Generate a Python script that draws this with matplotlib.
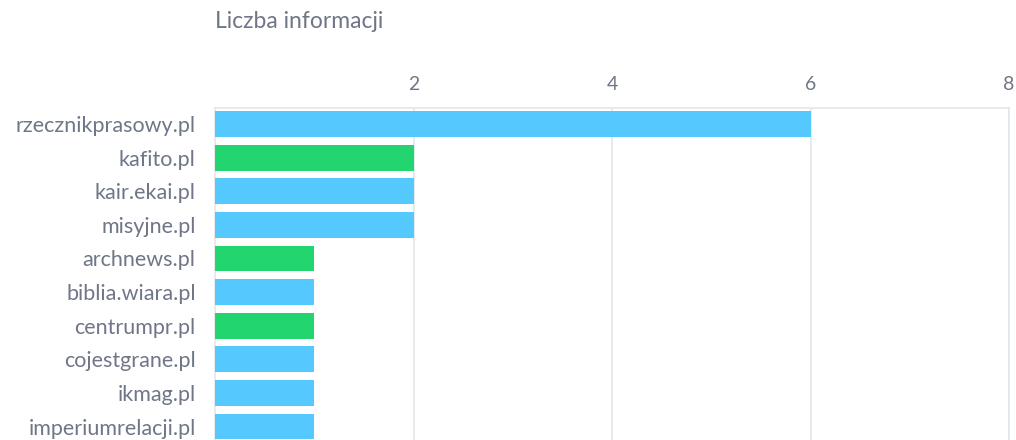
import matplotlib.pyplot as plt

plt.rcParams['font.family'] = ['Lato', 'DejaVu Sans']

sites = ["rzecznikprasowy.pl", "kafito.pl", "kair.ekai.pl", "misyjne.pl",
         "archnews.pl", "biblia.wiara.pl", "centrumpr.pl", "cojestgrane.pl",
         "ikmag.pl", "imperiumrelacji.pl"]
counts = [6, 2, 2, 2, 1, 1, 1, 1, 1, 1]
kinds = ["b", "g", "b", "b", "g", "b", "g", "b", "b", "b"]

blue = "#55C9FE"
green = "#22D56E"
grid_c = "#E1E8ED"
text_c = "#6E7687"

fig = plt.figure(figsize=(10.16, 4.4), dpi=100)
ax = fig.add_axes([215 / 1016, 0, (1009 - 215) / 1016, 1 - 108 / 440])

colors = [blue if k == "b" else green for k in kinds]
ax.barh(range(len(sites)), counts, height=0.77, color=colors, zorder=3)

ax.set_xlim(0, 8)
ax.set_ylim(9.40, -0.476)
ax.set_xticks([2, 4, 6, 8])
ax.set_yticks(range(len(sites)))
ax.set_yticklabels(sites)
ax.xaxis.tick_top()
ax.tick_params(axis='x', length=0, pad=11, labelsize=14, labelcolor=text_c)
ax.tick_params(axis='y', length=0, pad=14, labelsize=15.5, labelcolor=text_c)
ax.grid(axis='x', color=grid_c, linewidth=1.2, zorder=0)

for s in ['top', 'left', 'right']:
    ax.spines[s].set_color(grid_c)
    ax.spines[s].set_linewidth(1.2)
ax.spines['bottom'].set_visible(False)

fig.text(215 / 1016, 1 - 22 / 440, "Liczba informacji", fontsize=16.5,
         color=text_c, ha='left', va='center')

fig.savefig("out.png", dpi=100)
